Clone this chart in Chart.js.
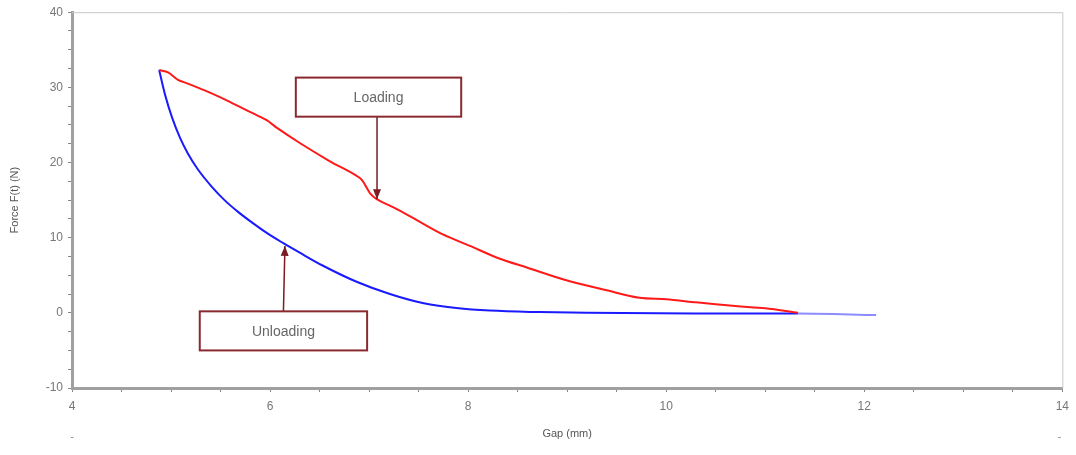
<!DOCTYPE html>
<html>
<head>
<meta charset="utf-8">
<script src="https://cdn.jsdelivr.net/npm/chart.js@4.4.1/dist/chart.umd.min.js"></script>
<style>
  html, body { margin: 0; padding: 0; background: #fff; }
  #wrap { width: 1076px; height: 455px; }
</style>
</head>
<body>
<div id="wrap"><canvas id="forceChart"></canvas></div>
<script>
// Loading curve (gap mm, force N)
const loadGap   = [4.88, 4.97, 5.07, 5.17, 5.34, 5.51, 5.68, 5.85, 5.97, 6.07, 6.30, 6.60, 6.91, 7.01, 7.08, 7.28, 7.50, 7.75, 8.02, 8.30, 8.60, 9.00, 9.40, 9.73, 10.00, 10.30, 10.70, 11.00, 11.33];
const loadForce = [32.3, 32.0, 31.0, 30.5, 29.6, 28.6, 27.5, 26.4, 25.6, 24.6, 22.6, 20.2, 17.9, 15.9, 15.1, 13.8, 12.2, 10.4, 8.9, 7.3, 6.0, 4.3, 3.0, 2.0, 1.8, 1.4, 0.9, 0.6, 0.0];

// Unloading curve
const unloadGap   = [4.88, 4.94, 5.01, 5.09, 5.17, 5.27, 5.41, 5.54, 5.68, 5.83, 5.97, 6.13, 6.30, 6.53, 6.88, 7.21, 7.54, 7.88, 8.22, 8.72, 9.20, 10.30, 11.33, 12.12];
const unloadForce = [32.3, 29.0, 26.0, 23.3, 21.2, 19.1, 16.8, 15.0, 13.4, 11.9, 10.6, 9.3, 8.0, 6.3, 4.1, 2.5, 1.3, 0.65, 0.3, 0.1, 0.0, -0.1, -0.1, -0.3];

// Annotation boxes in data units: [xMin, xMax, yTop, yBottom], arrow tip [x, y]
const loadingBox   = [6.26, 7.93, 31.3, 26.1];
const loadingTip   = [7.08, 15.1];
const unloadingBox = [5.29, 6.98, 0.2, -5.0];
const unloadingTip = [6.15, 8.9];

const toPts = (xs, ys) => xs.map((x, i) => ({ x: x, y: ys[i] }));

const annotatePlugin = {
  id: 'annotate',
  afterDatasetsDraw(chart) {
    const { ctx, chartArea: a, scales: { x, y } } = chart;
    ctx.save();
    // light frame on top and right
    ctx.strokeStyle = '#c8c8c8';
    ctx.lineWidth = 1;
    ctx.beginPath();
    ctx.moveTo(a.left, a.top + 0.5);
    ctx.lineTo(a.right + 0.5, a.top + 0.5);
    ctx.lineTo(a.right + 0.5, a.bottom);
    ctx.stroke();

    function callout(box, tip, label, fromTop) {
      const l = x.getPixelForValue(box[0]), r = x.getPixelForValue(box[1]);
      const t = y.getPixelForValue(box[2]), b = y.getPixelForValue(box[3]);
      const tx = x.getPixelForValue(tip[0]), ty = y.getPixelForValue(tip[1]);
      const sx = fromTop ? tx : (l + r) / 2;
      const sy = fromTop ? b : t;
      ctx.strokeStyle = '#7a1c22';
      ctx.lineWidth = 1.5;
      ctx.beginPath();
      ctx.moveTo(sx, sy);
      ctx.lineTo(tx, ty);
      ctx.stroke();
      const ang = Math.atan2(ty - sy, tx - sx);
      ctx.fillStyle = '#7a1c22';
      ctx.beginPath();
      ctx.moveTo(tx, ty);
      ctx.lineTo(tx - 10 * Math.cos(ang) + 4 * Math.sin(ang), ty - 10 * Math.sin(ang) - 4 * Math.cos(ang));
      ctx.lineTo(tx - 10 * Math.cos(ang) - 4 * Math.sin(ang), ty - 10 * Math.sin(ang) + 4 * Math.cos(ang));
      ctx.closePath();
      ctx.fill();
      ctx.fillStyle = '#fff';
      ctx.fillRect(l, t, r - l, b - t);
      ctx.strokeStyle = '#8a2a30';
      ctx.lineWidth = 2;
      ctx.strokeRect(l, t, r - l, b - t);
      ctx.fillStyle = '#666';
      ctx.font = '14px "Liberation Sans", Arial, sans-serif';
      ctx.textAlign = 'center';
      ctx.textBaseline = 'middle';
      ctx.fillText(label, (l + r) / 2, (t + b) / 2 + 1);
    }
    callout(loadingBox, loadingTip, 'Loading', true);
    callout(unloadingBox, unloadingTip, 'Unloading', false);

    // small dashes under the axis ends
    ctx.fillStyle = '#888';
    ctx.font = '11px "Liberation Sans", Arial, sans-serif';
    ctx.textAlign = 'center';
    ctx.fillText('-', x.getPixelForValue(4), 437);
    ctx.fillText('-', x.getPixelForValue(14) - 3, 437);
    ctx.restore();
  }
};

const ctx = document.getElementById('forceChart').getContext('2d');
const forceChart = new Chart(ctx, {
  type: 'line',
  data: {
    datasets: [{
      label: 'Loading',
      data: toPts(loadGap, loadForce),
      borderColor: '#ff1a1a',
      borderWidth: 2,
      pointRadius: 0,
      tension: 0.3
    }, {
      label: 'Unloading',
      data: toPts(unloadGap, unloadForce),
      borderColor: '#1a1aff',
      borderWidth: 2,
      pointRadius: 0,
      cubicInterpolationMode: 'monotone',
      segment: {
        borderColor: c => c.p0.parsed.x >= 11.3 ? '#8c8cff' : undefined
      }
    }]
  },
  options: {
    responsive: true,
    maintainAspectRatio: false,
    animation: false,
    layout: { padding: { top: 10, right: 13, left: 0, bottom: 0 } },
    plugins: {
      legend: { display: false },
      tooltip: { enabled: false }
    },
    scales: {
      x: {
        type: 'linear',
        min: 4, max: 14,
        ticks: {
          stepSize: 0.5,
          autoSkip: false,
          maxRotation: 0,
          color: '#777',
          font: { size: 12, family: '"Liberation Sans", Arial, sans-serif' },
          padding: 7,
          callback: v => (v % 2 === 0 ? String(v) : '')
        },
        grid: { drawOnChartArea: false, tickLength: 4, color: '#888' },
        border: { color: '#a0a0a0', width: 3 },
        title: {
          display: true, text: 'Gap (mm)', color: '#555',
          font: { size: 11, family: '"Liberation Sans", Arial, sans-serif' },
          padding: { top: 8, bottom: 14 }
        },
        afterFit: s => { s.height = 67; }
      },
      y: {
        type: 'linear',
        min: -10, max: 40,
        ticks: {
          stepSize: 2.5,
          autoSkip: false,
          color: '#777',
          font: { size: 12, family: '"Liberation Sans", Arial, sans-serif' },
          padding: 5,
          callback: v => (v % 10 === 0 ? String(v) : '')
        },
        grid: { drawOnChartArea: false, tickLength: 4, color: '#888' },
        border: { color: '#a0a0a0', width: 3 },
        title: {
          display: true, text: 'Force F(t) (N)', color: '#555',
          font: { size: 11, family: '"Liberation Sans", Arial, sans-serif' },
          padding: { top: 8, bottom: 2 }
        },
        afterFit: s => { s.width = 72; }
      }
    }
  },
  plugins: [annotatePlugin]
});
</script>
</body>
</html>
